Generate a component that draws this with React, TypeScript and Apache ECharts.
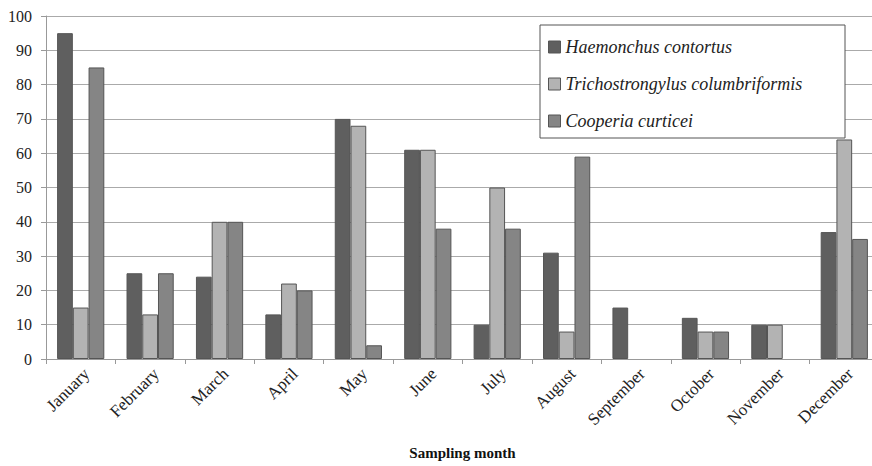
import React, { useEffect, useRef } from "react";
import * as echarts from "echarts";

const months = ["January", "February", "March", "April", "May", "June", "July", "August", "September", "October", "November", "December"];
const haemonchus = [95, 25, 24, 13, 70, 61, 10, 31, 15, 12, 10, 37];
const trichostrongylus = [15, 13, 40, 22, 68, 61, 50, 8, 0, 8, 10, 64];
const cooperia = [85, 25, 40, 20, 4, 38, 38, 59, 0, 8, 0, 35];
const seriesNames = ["Haemonchus contortus", "Trichostrongylus columbriformis", "Cooperia curticei"];
const seriesColors = ["#5f5f5f", "#b3b3b3", "#858585"];

const FONT = "Liberation Serif";

export default function App() {
  const ref = useRef<HTMLDivElement>(null);
  useEffect(() => {
    if (!ref.current) return;
    const chart = echarts.init(ref.current, undefined, { renderer: "svg" });
    const data = [haemonchus, trichostrongylus, cooperia];
    chart.setOption({
      animation: false,
      backgroundColor: "#ffffff",
      grid: { left: 46, right: -7, top: 16, bottom: 107, containLabel: false, outerBoundsMode: "none" },
      graphic: [
        {
          type: "rect",
          z: 50,
          shape: { x: 540, y: 25, width: 305, height: 113 },
          style: { fill: "#ffffff", stroke: "#555555", lineWidth: 1 },
        },
      ],
      legend: {
        z: 60,
        left: 548,
        top: 38,
        padding: 0,
        orient: "vertical",
        itemWidth: 12,
        itemHeight: 12,
        itemGap: 19,
        icon: "rect",
        textStyle: { fontFamily: FONT, fontStyle: "italic", fontSize: 18, color: "#222" },
        itemStyle: { borderColor: "#555", borderWidth: 1 },
        data: seriesNames,
      },
      xAxis: {
        type: "category",
        data: months,
        name: "Sampling month",
        nameLocation: "middle",
        nameGap: 86,
        nameTextStyle: { fontFamily: FONT, fontWeight: "bold", fontSize: 15, color: "#111" },
        axisLine: { lineStyle: { color: "#999" } },
        axisTick: { show: true, length: 5, lineStyle: { color: "#999" } },
        axisLabel: { rotate: 45, fontFamily: FONT, fontSize: 17, color: "#222", margin: 6, interval: 0, verticalAlign: "top" },
        splitLine: { show: false },
      },
      yAxis: {
        type: "value",
        min: 0,
        max: 100,
        interval: 10,
        axisLine: { show: true, lineStyle: { color: "#999" } },
        axisTick: { show: true, length: 5, lineStyle: { color: "#999" } },
        axisLabel: { fontFamily: FONT, fontSize: 16, color: "#222", margin: 14 },
        splitLine: { show: true, lineStyle: { color: "#aaaaaa", width: 1 } },
      },
      series: seriesNames.map((name, i) => ({
        name,
        type: "bar",
        data: data[i].map((v) => (v === 0 ? null : v)),
        barGap: "0%",
        barCategoryGap: "32%",
        itemStyle: { color: seriesColors[i], borderColor: "#555", borderWidth: 1 },
      })),
    });
    return () => chart.dispose();
  }, []);
  return <div ref={ref} style={{ width: 872, height: 466, position: "absolute", left: 0, top: 0 }} />;
}
